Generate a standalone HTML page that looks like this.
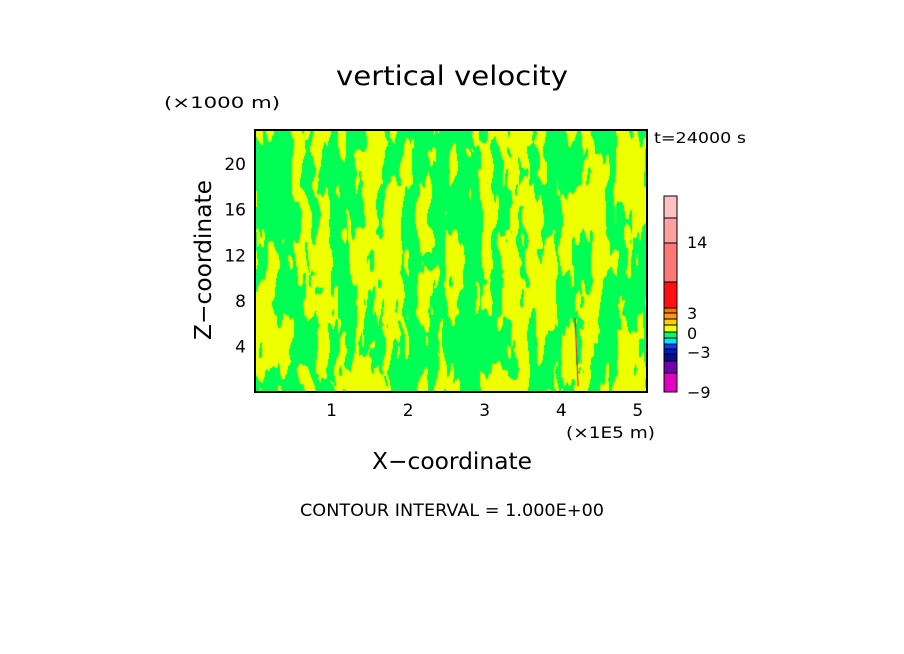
<!DOCTYPE html>
<html><head><meta charset="utf-8"><style>
body{margin:0;background:#fff;width:904px;height:654px;overflow:hidden;position:relative;font-family:"DejaVu Sans","Liberation Sans",sans-serif;}
</style></head><body>
<canvas id="field" width="392" height="262" style="position:absolute;left:255px;top:130px;"></canvas>
<svg id="svg" width="904" height="654" style="position:absolute;left:0;top:0;font-family:'DejaVu Sans',sans-serif;">
<text x="336" y="85" font-size="27" textLength="232" lengthAdjust="spacingAndGlyphs">vertical velocity</text>
<text x="164" y="108" font-size="16" textLength="116" lengthAdjust="spacingAndGlyphs">(×1000 m)</text>
<text x="654" y="143" font-size="15" textLength="92" lengthAdjust="spacingAndGlyphs">t=24000 s</text>
<text x="566" y="438" font-size="16" textLength="89" lengthAdjust="spacingAndGlyphs">(×1E5 m)</text>
<text x="372" y="469" font-size="23" textLength="160" lengthAdjust="spacingAndGlyphs">X−coordinate</text>
<text x="0" y="0" font-size="23" textLength="160" lengthAdjust="spacingAndGlyphs" transform="translate(211,340) rotate(-90)">Z−coordinate</text>
<text x="300" y="516" font-size="17" textLength="304" lengthAdjust="spacingAndGlyphs">CONTOUR INTERVAL = 1.000E+00</text>
</svg>
<script>
const xTicks=[1,2,3,4,5];
const yTicks=[4,8,12,16,20];
const cbColors=["#e000c0","#7000b0","#001090","#0018c0","#0040ff","#00e5ff","#00ff55","#eeff00","#ffcc00","#ff9900","#ff7000","#ff1010","#ff7878","#ffa0a0","#ffc0c0"];
const cbEdges=[392,373,361,354,349,344,338,332,325,319,313,308,282,243,218,196];
const cbLabels=["\u22129","\u22123","0","3","14"];
const cbLabelY=[392,352,333,313,242];
const X0=255,X1=647,Y0=392,Y1=130,xMax=5.12,yMax=23;
const sx=v=>X0+v/xMax*(X1-X0), sy=v=>Y0-v/yMax*(Y0-Y1);
const NS="http://www.w3.org/2000/svg",svg=document.getElementById('svg');
function mk(t,a){const e=document.createElementNS(NS,t);for(const k in a)e.setAttribute(k,a[k]);svg.appendChild(e);return e;}
const cv=document.getElementById('field'),ctx=cv.getContext('2d');
function h(i,j){let n=(i*374761393+j*668265263)|0;n=(n^(n>>>13))*1274126177|0;return ((n^(n>>>16))>>>0)/4294967296;}
function vn(x,y){const i=Math.floor(x),j=Math.floor(y),fx=x-i,fy=y-j;const u=fx*fx*(3-2*fx),v=fy*fy*(3-2*fy);
return (h(i,j)*(1-u)+h(i+1,j)*u)*(1-v)+(h(i,j+1)*(1-u)+h(i+1,j+1)*u)*v;}
const img=ctx.createImageData(392,262);
for(let y=0;y<262;y++)for(let x=0;x<392;x++){
 const yy=262-y;
 const xs=x+6*vn(x/30,yy/25);
 let n=0.55*vn(xs/9,yy/45)+0.3*vn(xs/4.5,yy/22+7)+0.15*vn(xs/2.5,yy/10+3);
 const g=n<0.49;const k=(y*392+x)*4;
 img.data[k]=g?0:238;img.data[k+1]=255;img.data[k+2]=g?85:0;img.data[k+3]=255;}
ctx.putImageData(img,0,0);
ctx.strokeStyle="#e01010";ctx.lineWidth=1;ctx.beginPath();ctx.moveTo(sx(4.18)-X0,sy(6.5)-Y1);ctx.lineTo(sx(4.22)-X0,sy(0.5)-Y1);ctx.stroke();
let r=mk('rect',{x:X0,y:Y1,width:X1-X0,height:Y0-Y1,fill:'none',stroke:'#000','stroke-width':2});

xTicks.forEach(v=>{const t=mk('text',{x:sx(v),y:416,'font-size':17,'text-anchor':'middle'});t.textContent=v;
});
yTicks.forEach(v=>{const t=mk('text',{x:246,y:sy(v)+6,'font-size':17,'text-anchor':'end'});t.textContent=v;
});
cbColors.forEach((c,i)=>{const s=mk('rect',{x:664,y:cbEdges[i+1],width:13,height:cbEdges[i]-cbEdges[i+1],fill:c,stroke:'#000','stroke-width':1});
});
cbLabels.forEach((l,i)=>{const t=mk('text',{x:687,y:cbLabelY[i]+6,'font-size':16});t.textContent=l;
});
</script>
</body></html>
